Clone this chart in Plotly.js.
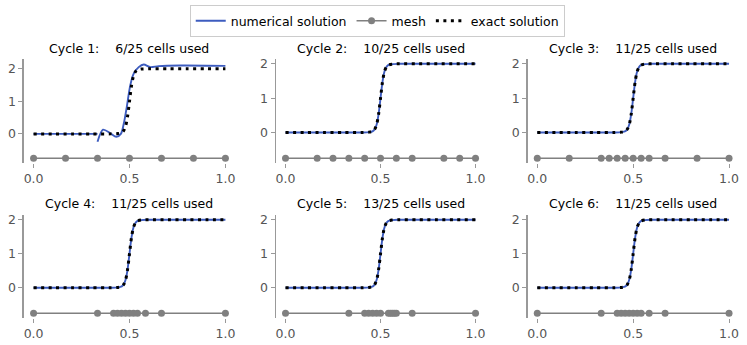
<!DOCTYPE html>
<html>
<head>
<meta charset="utf-8">
<script src="https://cdn.plot.ly/plotly-3.0.1.min.js"></script>
<style>
  html, body { margin: 0; padding: 0; background: #fff; }
  #chart { width: 747px; height: 345px; }
</style>
</head>
<body>
<div id="chart"></div>
<script>
// données
const cycleTitles = [
    'Cycle 1:\u00a0\u00a0\u00a0\u00a06/25 cells used',
    'Cycle 2:\u00a0\u00a0\u00a0\u00a010/25 cells used',
    'Cycle 3:\u00a0\u00a0\u00a0\u00a011/25 cells used',
    'Cycle 4:\u00a0\u00a0\u00a0\u00a011/25 cells used',
    'Cycle 5:\u00a0\u00a0\u00a0\u00a013/25 cells used',
    'Cycle 6:\u00a0\u00a0\u00a0\u00a011/25 cells used'
];

// solution exacte (marche lissée autour de x = 0.5)
const exactX = [0, 0.1, 0.2, 0.3, 0.4, 0.44, 0.46, 0.47, 0.48, 0.49, 0.5, 0.51, 0.52, 0.53, 0.54, 0.56, 0.6, 0.7, 0.8, 0.9, 1.0];
const exactY = [0, 0, 0, 0, 0, 0.01, 0.04, 0.10, 0.24, 0.54, 1.0, 1.46, 1.76, 1.90, 1.96, 1.99, 2, 2, 2, 2, 2];

// solution numérique du cycle 1 (discontinue en x = 1/3)
const num1X = [0, 0.1, 0.2, 0.3, 0.3333, null, 0.3333, 0.362, 0.40, 0.431, 0.455, 0.47, 0.487, 0.504, 0.522, 0.548, 0.574, 0.609, 0.652, 0.765, 1.0];
const num1Y = [0, 0, 0, 0, 0, null, -0.24, 0.13, 0.02, -0.09, 0.0, 0.31, 0.87, 1.49, 1.85, 2.05, 2.13, 2.05, 2.08, 2.10, 2.09];

// cycles 2 à 6 : la solution numérique se confond avec l'exacte
const numX = [num1X, exactX, exactX, exactX, exactX, exactX];
const numY = [num1Y, exactY, exactY, exactY, exactY, exactY];

// noeuds du maillage
const mesh1 = [0, 1/6, 1/3, 1/2, 2/3, 5/6, 1];
const mesh2 = [0, 1/6, 1/4, 1/3, 5/12, 1/2, 7/12, 2/3, 5/6, 11/12, 1];
const mesh3 = [0, 1/6, 1/3, 3/8, 5/12, 11/24, 1/2, 13/24, 7/12, 2/3, 5/6, 1];
const mesh4 = [0, 1/3, 20/48, 21/48, 22/48, 23/48, 24/48, 25/48, 26/48, 7/12, 2/3, 1];
const mesh5 = [0, 1/3, 20/48, 21/48, 22/48, 23/48, 24/48, 52/96, 53/96, 54/96, 55/96, 56/96, 2/3, 1];
const mesh6 = [0, 1/3, 20/48, 21/48, 22/48, 23/48, 24/48, 25/48, 26/48, 7/12, 2/3, 1];
const meshNodes = [mesh1, mesh2, mesh3, mesh4, mesh5, mesh6];
const meshLevel = -0.75;

const xTickVals = [0, 0.5, 1];
const xTickText = ['0.0', '0.5', '1.0'];
const yTickVals = [0, 1, 2];

// --- mise en page ---
const colorNum = '#3d5cbf';
const colorMesh = '#808080';
const colDomains = [[0.0321, 0.3146], [0.3695, 0.6493], [0.7064, 0.9888]];
const rowDomains = [[0.5275, 0.829], [0.0783, 0.3768]];
const titleY = [0.86, 0.4107];

const traces = [];
const layout = {
    width: 747, height: 345,
    margin: { l: 0, r: 0, t: 0, b: 0 },
    paper_bgcolor: '#fff', plot_bgcolor: '#fff',
    font: { family: 'DejaVu Sans', size: 12, color: '#000' },
    showlegend: true,
    legend: {
        orientation: 'h', x: 0.505, xanchor: 'center', y: 0.985, yanchor: 'top',
        bordercolor: '#cccccc', borderwidth: 1, bgcolor: '#fff',
        font: { size: 12.5, color: '#000' }
    },
    annotations: []
};

for (let i = 0; i < 6; i++) {
    const n = i === 0 ? '' : String(i + 1);
    const row = Math.floor(i / 3), col = i % 3;
    const first = i === 0;

    traces.push({
        x: numX[i], y: numY[i], xaxis: 'x' + n, yaxis: 'y' + n,
        type: 'scatter', mode: 'lines', name: 'numerical solution',
        line: { color: colorNum, width: 1.9, shape: 'spline', smoothing: 0.8 },
        connectgaps: false, showlegend: first, legendrank: 1
    });
    traces.push({
        x: meshNodes[i], y: meshNodes[i].map(() => meshLevel), xaxis: 'x' + n, yaxis: 'y' + n,
        type: 'scatter', mode: 'lines+markers', name: 'mesh',
        line: { color: colorMesh, width: 1.5 },
        marker: { color: colorMesh, size: 7 },
        showlegend: first, legendrank: 2
    });
    traces.push({
        x: exactX, y: exactY, xaxis: 'x' + n, yaxis: 'y' + n,
        type: 'scatter', mode: 'lines', name: 'exact solution',
        line: { color: '#000', width: 3, dash: '3px,4.5px', shape: 'spline', smoothing: 0.8 },
        showlegend: first, legendrank: 3
    });

    layout['xaxis' + n] = {
        domain: colDomains[col], anchor: 'y' + n, range: [-0.05, 1.05],
        tickvals: xTickVals, ticktext: xTickText,
        ticks: 'outside', ticklen: 4, tickwidth: 1, tickcolor: '#999',
        showline: false, showgrid: false, zeroline: false,
        tickfont: { size: 12.5, color: '#555' }
    };
    layout['yaxis' + n] = {
        domain: rowDomains[row], anchor: 'x' + n,
        range: first ? [-0.895, 2.3] : [-0.89, 2.14],
        tickvals: yTickVals,
        ticks: 'outside', ticklen: 4, tickwidth: 1, tickcolor: '#999',
        showline: true, linecolor: '#999', linewidth: 1.5,
        showgrid: false, zeroline: false,
        tickfont: { size: 12.5, color: '#555' }
    };
    layout.annotations.push({
        text: cycleTitles[i], xref: 'paper', yref: 'paper',
        x: (colDomains[col][0] + colDomains[col][1]) / 2, y: titleY[row],
        xanchor: 'center', yanchor: 'middle', showarrow: false,
        font: { size: 12.5, color: '#000' }
    });
}

Plotly.newPlot('chart', traces, layout, { displayModeBar: false, staticPlot: true });
</script>
</body>
</html>
